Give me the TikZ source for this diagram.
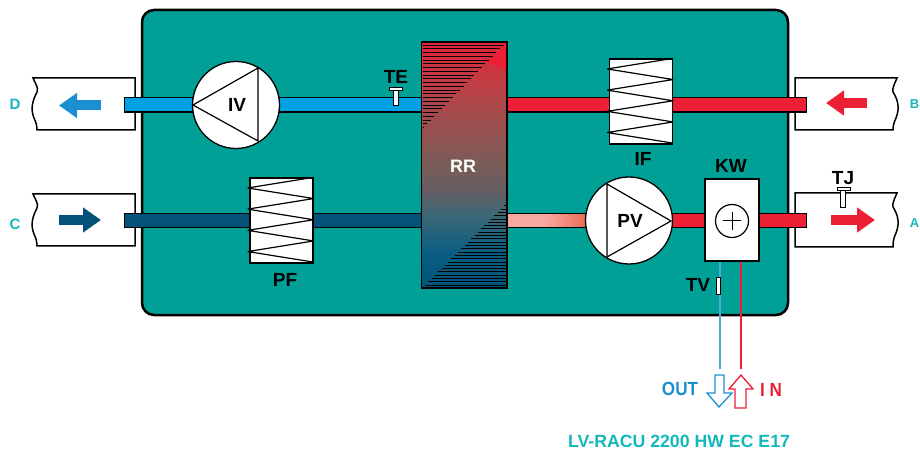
\documentclass[tikz,border=0pt]{standalone}
\usepackage{fontspec}
\setmainfont{Liberation Sans}
\usetikzlibrary{arrows.meta}
\definecolor{unitteal}{HTML}{00A096}
\definecolor{labelteal}{HTML}{14B8BB}
\definecolor{ductblue}{HTML}{00A0E3}
\definecolor{ductnavy}{HTML}{04527A}
\definecolor{ductred}{HTML}{EC1F35}
\definecolor{ductpink}{HTML}{F7A9A0}
\definecolor{ductorange}{HTML}{EB6650}
\definecolor{flowblue}{HTML}{1B8FD2}
\definecolor{outblue}{HTML}{4FA9DC}
\definecolor{rrb}{HTML}{0A5A82}
\definecolor{rrc}{HTML}{3F6674}
\definecolor{rrd}{HTML}{6B5A60}
\definecolor{rre}{HTML}{7E5A56}
\definecolor{rrf}{HTML}{A04C4C}
\definecolor{rrg}{HTML}{C43C42}
\pgfdeclareverticalshading{rrshade}{100bp}{
  color(0bp)=(ductnavy); color(25bp)=(ductnavy); color(32bp)=(rrb); color(40bp)=(rrc); color(45bp)=(rrd);
  color(50bp)=(rre); color(58bp)=(rrf); color(66bp)=(rrg); color(75bp)=(ductred); color(100bp)=(ductred)}
\pgfdeclarelayer{casing}
\pgfdeclarelayer{pipes}
\pgfsetlayers{casing,pipes,main}
\begin{document}
\begin{tikzpicture}[x=1pt, y=-1pt, >=Latex,
  unitbox/.style={draw=black, line width=2.5pt, fill=unitteal, rounded corners=12pt},
  ductbox/.style={draw=black, line width=1.5pt, fill=white},
  pipe/.style={draw=#1, line width=13pt, preaction={draw=black, line width=15.5pt, shorten >=-1pt, shorten <=-1pt}},
  fan/.style={circle, draw=black, line width=1.3pt, fill=white, minimum size=87pt, inner sep=0pt},
  blade/.style={draw=black, line width=1.2pt},
  filterbox/.style={rectangle, draw=black, line width=1.3pt, fill=white, minimum width=63pt, minimum height=85pt, inner sep=0pt},
  heaterbox/.style={rectangle, draw=black, line width=1.3pt, fill=white, minimum width=54pt, minimum height=82pt, inner sep=0pt},
  zigzag/.style={draw=black, line width=1.2pt, line join=bevel},
  lbl/.style={font=\fontsize{19}{20}\selectfont\bfseries, inner sep=0pt},
  portlbl/.style={font=\fontsize{15}{16}\selectfont\bfseries, text=labelteal, inner sep=0pt},
  flow/.style={line width=10pt, -{Triangle[length=18pt, width=24pt]}, draw=#1},
  sensor/.style={rectangle, draw=black, line width=1pt, fill=white, inner sep=0pt},
  hatch/.style={draw=black, line width=0.8pt}
]
\useasboundingbox (0,0) rectangle (920,454);
% components
\coordinate (ductD) at (125,105);
\coordinate (ductC) at (125,220.5);
\coordinate (ductB) at (806,105);
\coordinate (ductA) at (806,220.5);
\node[fan] (iv) at (236,105) {};
\node[fan] (pv) at (629,220.5) {};
\node[filterbox] (pf) at (281.5,220.5) {};
\node[filterbox] (if) at (641,101.5) {};
\node[heaterbox] (kw) at (732,220) {};
\node[rectangle, draw=black, line width=1.3pt, shading=rrshade, minimum width=85.5pt, minimum height=246pt, inner sep=0pt] (rr) at (464.2,165) {};
% casing and outside ducts
\begin{pgfonlayer}{casing}
\draw[unitbox] (142,10) rectangle (788,315);
\foreach \yy in {78,194}{
  \draw[ductbox] (135,\yy) -- (33,\yy) .. controls (35,\yy+5) and (39,\yy+10) .. (37,\yy+14)
    .. controls (33,\yy+22) and (30,\yy+30) .. (34,\yy+40) .. controls (36,\yy+44) and (37,\yy+48) .. (37,\yy+52) -- (135,\yy+52) -- cycle;
}
\foreach \yy/\hh in {78/52,193/54}{
  \draw[ductbox] (795,\yy) -- (897,\yy) .. controls (895,\yy+5) and (892,\yy+10) .. (893,\yy+14)
    .. controls (898,\yy+22) and (900,\yy+30) .. (896,\yy+40) .. controls (894,\yy+44) and (893,\yy+48) .. (893,\yy+\hh) -- (795,\yy+\hh) -- cycle;
}
\end{pgfonlayer}
% pipes
\begin{pgfonlayer}{pipes}
\draw[pipe=ductblue] (ductD) -- (iv);
\draw[pipe=ductblue] (iv) -- (rr.west |- iv);
\draw[pipe=ductnavy] (ductC) -- (pf);
\draw[pipe=ductnavy] (pf) -- (rr.west |- pf);
\draw[pipe=ductred] (rr.east |- ductB) -- (ductB);
\draw[pipe=ductpink] (rr.east |- pv) -- (pv);
\draw[pipe=ductred] (pv) -- (ductA);
\shade[left color=ductpink, right color=ductorange] (545,214.3) rectangle (590,226.7);
\end{pgfonlayer}
\draw[blade] (193,105) -- (258,68) -- (258,141) -- cycle;
\draw[blade] (607,184) -- (671,221) -- (607,257) -- cycle;
\foreach \f in {pf,if}{
  \draw[zigzag] (\f.north east) -- ++(-66,10.6) -- ++(66,10.6) -- ++(-66,10.6) -- ++(66,10.6)
    -- ++(-66,10.6) -- ++(66,10.6) -- ++(-66,10.6) -- ++(66,10.6);
}
% heat exchanger
\foreach \i in {0,...,120}{
  \draw[unitteal, opacity=0.08, line width=0.5pt] (423,44+2*\i) -- (506,44+2*\i);
}
\fill[ductred] (506,43) -- (506,70) -- (487,62) -- cycle;
\foreach \i in {0,...,22}{
  \pgfmathsetmacro{\yy}{45+3.75*\i}
  \pgfmathsetmacro{\xe}{423+(128-\yy)*0.97}
  \draw[hatch] (423,\yy) -- (\xe,\yy);
}
\foreach \i in {0,...,24}{
  \pgfmathsetmacro{\yy}{285-3.3*\i}
  \pgfmathsetmacro{\xs}{425+3.3*\i}
  \draw[hatch] (\xs,\yy) -- (505.5,\yy);
}
\node[lbl, text=white, font=\fontsize{18}{20}\selectfont\bfseries] (rrlabel) at (463,166) {RR};
% heater
\node[circle, draw=black, line width=1.2pt, minimum size=33pt, inner sep=0pt] (heater) at (732,221) {};
\draw[line width=1pt] ([xshift=-9pt]heater.center) -- ([xshift=9pt]heater.center);
\draw[line width=1pt] ([yshift=-9pt]heater.center) -- ([yshift=9pt]heater.center);
% water lines
\coordinate (outtop) at (720,369);
\coordinate (intop) at (741,369);
\draw[outblue, line width=1.2pt] (kw.south -| outtop) -- (outtop);
\draw[ductred, line width=1.2pt] (kw.south -| intop) -- (intop);
\draw[flowblue, line width=1.3pt, fill=white, line join=miter] (715,375) -- (724,375) -- (724,393) -- (732,393) -- (719,407) -- (707,393) -- (715,393) -- cycle;
\draw[ductred, line width=1.3pt, fill=white, line join=miter] (741,375) -- (753,389) -- (746,389) -- (746,408) -- (735,408) -- (735,389) -- (729,389) -- cycle;
% sensors
\node[sensor, minimum width=4.5pt, minimum height=18pt] (testem) at (396,97) {};
\node[sensor, minimum width=13pt, minimum height=3.5pt] (tebar) at (396,89) {};
\node[sensor, minimum width=4.5pt, minimum height=18pt] (tjstem) at (843,199) {};
\node[sensor, minimum width=13pt, minimum height=3.5pt] (tjbar) at (843.5,189) {};
\node[sensor, minimum width=4.5pt, minimum height=17pt] (tvstem) at (718.5,285.5) {};
% flow arrows in the ducts
\coordinate (dtail) at (101,105.5); \coordinate (dhead) at (59,105.5);
\coordinate (ctail) at (59,220); \coordinate (chead) at (101,220);
\coordinate (btail) at (867,103); \coordinate (bhead) at (826,103);
\coordinate (atail) at (831,220); \coordinate (ahead) at (875,220);
\draw[flow=flowblue] (dtail) -- (dhead);
\draw[flow=ductnavy] (ctail) -- (chead);
\draw[flow=ductred] (btail) -- (bhead);
\draw[flow=ductred] (atail) -- (ahead);
% labels
\node[lbl] (ivlabel) at (237,105) {IV};
\node[lbl] (pvlabel) at (630,221) {PV};
\node[lbl] (pflabel) at (285,280) {PF};
\node[lbl] (iflabel) at (643,159) {IF};
\node[lbl] (kwlabel) at (731,166) {KW};
\node[lbl] (telabel) at (396,77) {TE};
\node[lbl] (tjlabel) at (843,178) {TJ};
\node[lbl] (tvlabel) at (698,285) {TV};
\node[portlbl] (dlabel) at (15,104) {D};
\node[portlbl] (clabel) at (15,224) {C};
\node[portlbl, anchor=east, font=\fontsize{13}{14}\selectfont\bfseries] (blabel) at (919.5,104) {B};
\node[portlbl, anchor=east, font=\fontsize{13}{14}\selectfont\bfseries] (alabel) at (919.5,223) {A};
\node[lbl, text=flowblue] (outlabel) at (680,389) {\scalebox{0.9}[1]{OUT}};
\node[lbl, text=ductred] (inlabel) at (771,390) {\scalebox{0.9}[1]{I N}};
\node[lbl, text=labelteal, font=\fontsize{17.7}{20}\selectfont\bfseries] (modellabel) at (679,441) {LV-RACU 2200 HW EC E17};
\end{tikzpicture}
\end{document}
